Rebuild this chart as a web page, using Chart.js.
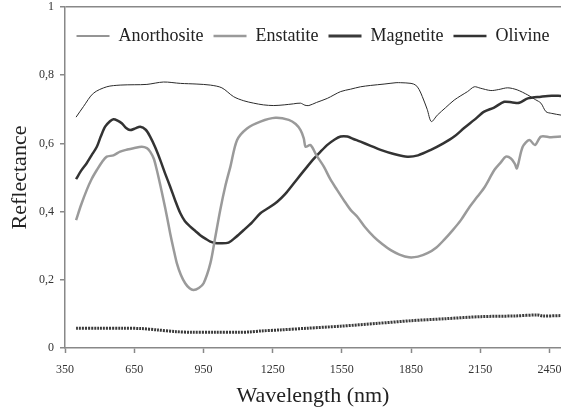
<!DOCTYPE html>
<html>
<head>
<meta charset="utf-8">
<script src="https://cdn.jsdelivr.net/npm/chart.js@4/dist/chart.umd.min.js"></script>
<style>
  html, body { margin: 0; padding: 0; background: #fff; }
  #wrap { width: 561px; height: 410px; }
</style>
</head>
<body>
<div id="wrap"><canvas id="chart" width="561" height="410"></canvas></div>
<script>
// wavelength (nm) / reflectance pairs
const anorthositeNm = [398, 430, 473, 531, 589, 650, 705, 777, 850, 922, 980, 1030, 1081, 1125, 1168, 1210, 1255, 1300, 1340, 1371, 1390, 1407, 1440, 1487, 1545, 1588, 1631, 1675, 1733, 1785, 1805, 1850, 1870, 1885, 1899, 1920, 1938, 1964, 2000, 2037, 2066, 2095, 2124, 2150, 2196, 2230, 2269, 2310, 2356, 2390, 2413, 2435, 2460, 2500];
const anorthositeR  = [0.677, 0.708, 0.747, 0.766, 0.771, 0.772, 0.773, 0.780, 0.776, 0.774, 0.771, 0.763, 0.737, 0.725, 0.718, 0.713, 0.711, 0.713, 0.716, 0.718, 0.712, 0.711, 0.720, 0.732, 0.752, 0.759, 0.766, 0.770, 0.774, 0.778, 0.778, 0.776, 0.771, 0.758, 0.737, 0.700, 0.664, 0.683, 0.705, 0.727, 0.740, 0.752, 0.766, 0.762, 0.755, 0.758, 0.763, 0.757, 0.742, 0.728, 0.718, 0.693, 0.688, 0.683];

const enstatiteNm = [398, 420, 444, 465, 488, 510, 531, 560, 589, 620, 647, 683, 705, 719, 735, 748, 763, 777, 792, 806, 820, 835, 852, 871, 890, 907, 930, 951, 980, 1000, 1023, 1045, 1067, 1096, 1139, 1197, 1262, 1320, 1350, 1371, 1385, 1393, 1414, 1440, 1472, 1500, 1530, 1560, 1588, 1617, 1650, 1689, 1725, 1762, 1800, 1841, 1880, 1921, 1960, 1993, 2030, 2066, 2100, 2138, 2170, 2211, 2240, 2261, 2283, 2300, 2309, 2334, 2363, 2387, 2413, 2457, 2500];
const enstatiteR  = [0.375, 0.420, 0.463, 0.495, 0.522, 0.545, 0.561, 0.565, 0.576, 0.582, 0.586, 0.590, 0.586, 0.576, 0.555, 0.522, 0.478, 0.434, 0.385, 0.336, 0.292, 0.248, 0.215, 0.190, 0.175, 0.170, 0.176, 0.190, 0.248, 0.320, 0.405, 0.475, 0.532, 0.610, 0.644, 0.664, 0.675, 0.669, 0.657, 0.639, 0.615, 0.590, 0.595, 0.565, 0.532, 0.495, 0.463, 0.432, 0.405, 0.385, 0.355, 0.326, 0.305, 0.287, 0.274, 0.266, 0.268, 0.278, 0.295, 0.317, 0.345, 0.375, 0.410, 0.444, 0.473, 0.522, 0.545, 0.561, 0.556, 0.540, 0.527, 0.590, 0.610, 0.595, 0.620, 0.618, 0.620];

const magnetiteNm = [398, 500, 600, 680, 750, 830, 900, 1000, 1100, 1150, 1200, 1284, 1400, 1545, 1700, 1849, 2000, 2153, 2300, 2399, 2420, 2500];
const magnetiteR  = [0.058, 0.058, 0.058, 0.057, 0.053, 0.048, 0.046, 0.046, 0.046, 0.047, 0.050, 0.053, 0.058, 0.064, 0.072, 0.080, 0.086, 0.092, 0.094, 0.097, 0.094, 0.095];

const olivineNm = [398, 420, 444, 465, 488, 505, 524, 545, 560, 578, 596, 615, 632, 655, 676, 700, 719, 740, 763, 785, 806, 828, 850, 870, 893, 915, 936, 960, 980, 1000, 1023, 1059, 1090, 1125, 1160, 1197, 1235, 1270, 1305, 1342, 1370, 1400, 1430, 1458, 1490, 1516, 1545, 1574, 1600, 1631, 1675, 1718, 1780, 1834, 1880, 1936, 1990, 2037, 2080, 2124, 2167, 2210, 2254, 2290, 2319, 2356, 2413, 2460, 2500];
const olivineR  = [0.495, 0.520, 0.542, 0.565, 0.590, 0.620, 0.649, 0.665, 0.671, 0.667, 0.659, 0.645, 0.639, 0.644, 0.649, 0.640, 0.620, 0.590, 0.551, 0.510, 0.473, 0.432, 0.395, 0.372, 0.356, 0.343, 0.331, 0.320, 0.312, 0.308, 0.307, 0.309, 0.325, 0.346, 0.368, 0.395, 0.412, 0.429, 0.452, 0.483, 0.507, 0.532, 0.556, 0.576, 0.597, 0.610, 0.620, 0.620, 0.613, 0.605, 0.593, 0.581, 0.568, 0.561, 0.565, 0.581, 0.600, 0.620, 0.645, 0.669, 0.693, 0.705, 0.722, 0.720, 0.719, 0.732, 0.737, 0.740, 0.739];

const xTicks = [350, 650, 950, 1250, 1550, 1850, 2150, 2450];
const yTicks = [0, 0.2, 0.4, 0.6, 0.8, 1];

const serif = "'Liberation Serif', 'Times New Roman', serif";
const pts = (xs, ys) => xs.map((x, i) => ({x: x, y: ys[i]}));

// legend sits inside the plot, but as one row like a top legend
const rowLegend = {
  id: 'rowLegend',
  beforeLayout(chart) {
    if (chart.legend) chart.legend.isHorizontal = () => true;
  },
  afterLayout(chart) {
    const lg = chart.legend, ca = chart.chartArea;
    if (!lg) return;
    lg.left = ca.left; lg.right = ca.right;
    lg.top += 10; lg.bottom += 10;
  }
};

const ctx = document.getElementById('chart').getContext('2d');
new Chart(ctx, {
  type: 'line',
  data: {
    datasets: [
      { label: 'Anorthosite', data: pts(anorthositeNm, anorthositeR), borderColor: '#2b2b2b', borderWidth: 1 },
      { label: 'Enstatite', data: pts(enstatiteNm, enstatiteR), borderColor: '#9a9a9a', borderWidth: 2.5 },
      { label: 'Magnetite', data: pts(magnetiteNm, magnetiteR), borderColor: '#3a3a3a', borderWidth: 3, borderDash: [2, 1] },
      { label: 'Olivine', data: pts(olivineNm, olivineR), borderColor: '#333333', borderWidth: 2.5 }
    ]
  },
  options: {
    responsive: false,
    animation: false,
    elements: { point: { radius: 0 }, line: { tension: 0.3, fill: false } },
    layout: { padding: 0 },
    plugins: {
      tooltip: { enabled: false },
      legend: {
        position: 'chartArea',
        align: 'center',
        labels: {
          usePointStyle: true,
          pointStyle: 'line',
          pointStyleWidth: 33,
          boxWidth: 33,
          padding: 10,
          color: '#222',
          font: { family: serif, size: 18 }
        }
      }
    },
    scales: {
      x: {
        type: 'linear',
        min: 350,
        max: 2500,
        afterBuildTicks: s => { s.ticks = xTicks.map(v => ({value: v})); },
        afterFit: s => { s.height = 62; s.paddingRight = 0; },
        grid: { drawOnChartArea: false, drawTicks: true, tickLength: 5, tickColor: '#888', tickWidth: 1.5 },
        border: { color: '#888', width: 1.5 },
        ticks: { color: '#333', font: { family: serif, size: 12 }, padding: 10, maxRotation: 0, callback: v => String(v) },
        title: { display: true, text: 'Wavelength (nm)', color: '#222', font: { family: serif, size: 22 }, padding: { top: 0, bottom: 1 } }
      },
      y: {
        min: 0,
        max: 1,
        afterBuildTicks: s => { s.ticks = yTicks.map(v => ({value: v})); },
        afterFit: s => { s.width = 65; s.paddingTop = 7; },
        grid: {
          color: c => (c.tick && c.tick.value === 1) ? '#888' : 'rgba(0,0,0,0)',
          lineWidth: 1.5,
          drawTicks: true, tickLength: 5, tickColor: '#888', tickWidth: 1.5
        },
        border: { color: '#888', width: 1.5 },
        ticks: {
          color: '#333',
          font: { family: serif, size: 12 },
          padding: 6,
          callback: v => String(Math.round(v * 10) / 10).replace('.', ',')
        },
        title: { display: true, text: 'Reflectance', color: '#222', font: { family: serif, size: 22 }, padding: { top: 7, bottom: 0 } }
      }
    }
  },
  plugins: [rowLegend]
});
</script>
</body>
</html>
